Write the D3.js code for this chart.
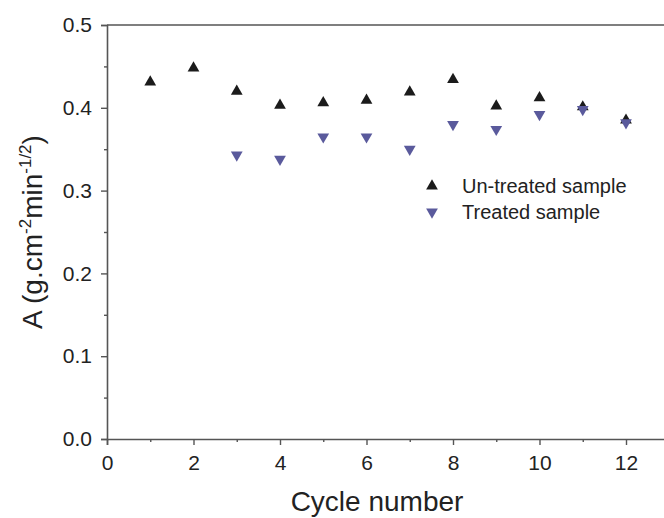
<!DOCTYPE html>
<html>
<head>
<meta charset="utf-8">
<script src="https://cdn.jsdelivr.net/npm/d3@7"></script>
<style>
  body { margin: 0; background: #fff; }
  text { font-family: "Liberation Sans", Arial, sans-serif; fill: #222; }
</style>
</head>
<body>
<div id="chart"></div>
<script>
// data
const untreatedCycles = [1, 2, 3, 4, 5, 6, 7, 8, 9, 10, 11, 12];
const untreatedValues = [0.431, 0.448, 0.420, 0.403, 0.406, 0.409, 0.419, 0.434, 0.402, 0.412, 0.401, 0.385];
const treatedCycles = [3, 4, 5, 6, 7, 8, 9, 10, 11, 12];
const treatedValues = [0.343, 0.338, 0.365, 0.365, 0.350, 0.380, 0.374, 0.392, 0.398, 0.382];
const xTicks = [0, 2, 4, 6, 8, 10, 12];
const yTicks = [0.0, 0.1, 0.2, 0.3, 0.4, 0.5];
const seriesNames = ["Un-treated sample", "Treated sample"];

const width = 664, height = 518;
const plotLeft = 107, plotTop = 25, plotBottom = 439;

const svg = d3.select("#chart").append("svg")
    .attr("width", width)
    .attr("height", height);

const x = d3.scaleLinear().domain([0, 13]).range([plotLeft, plotLeft + 13 * 43.25]);
const y = d3.scaleLinear().domain([0, 0.5]).range([plotBottom, plotTop]);

const axisColor = "#555";

// frame (top + right cut off at the page edge)
svg.append("line")
    .attr("x1", plotLeft).attr("x2", width).attr("y1", plotTop).attr("y2", plotTop)
    .attr("stroke", axisColor).attr("stroke-width", 1.6);

// x axis
svg.append("g")
    .attr("transform", `translate(0,${plotBottom})`)
    .call(d3.axisBottom(x).tickValues(xTicks).tickSize(6).tickPadding(10).tickFormat(d3.format("d")));
svg.append("g")
    .attr("transform", `translate(0,${plotBottom})`)
    .call(d3.axisBottom(x).tickValues(d3.range(1, 13, 2)).tickSize(3).tickFormat(""))
    .call(g => g.select(".domain").remove());

// y axis
svg.append("g")
    .attr("transform", `translate(${plotLeft},0)`)
    .call(d3.axisLeft(y).tickValues(yTicks).tickSize(6).tickPadding(9).tickFormat(d3.format(".1f")));
svg.append("g")
    .attr("transform", `translate(${plotLeft},0)`)
    .call(d3.axisLeft(y).tickValues(d3.range(0.05, 0.5, 0.1)).tickSize(3).tickFormat(""))
    .call(g => g.select(".domain").remove());

svg.selectAll(".domain").attr("stroke", axisColor).attr("stroke-width", 1.6);
svg.selectAll(".tick line").attr("stroke", axisColor).attr("stroke-width", 1.4);
svg.selectAll(".tick text")
    .style("font-family", "'Liberation Sans', Arial, sans-serif")
    .style("font-size", "21px")
    .attr("fill", "#333");

// axis titles
svg.append("text")
    .attr("x", 377).attr("y", 511)
    .attr("text-anchor", "middle")
    .style("font-size", "28px")
    .attr("fill", "#333")
    .text("Cycle number");

const yTitle = svg.append("text")
    .attr("transform", `translate(42,${y(0.25)}) rotate(-90)`)
    .attr("text-anchor", "middle")
    .attr("fill", "#333")
    .style("font-size", "28px");
yTitle.append("tspan").text("A (g.cm");
yTitle.append("tspan").attr("dy", -11).style("font-size", "17px").text("-2");
yTitle.append("tspan").attr("dy", 11).text("min");
yTitle.append("tspan").attr("dy", -11).style("font-size", "17px").text("-1/2");
yTitle.append("tspan").attr("dy", 11).text(")");

// markers
const up = d3.symbol().type(d3.symbolTriangle).size(60);
const untreated = untreatedCycles.map((c, i) => ({ c, v: untreatedValues[i] }));
const treated = treatedCycles.map((c, i) => ({ c, v: treatedValues[i] }));

svg.append("g").selectAll("path")
    .data(untreated)
    .join("path")
    .attr("d", up)
    .attr("transform", d => `translate(${x(d.c)},${y(d.v)})`)
    .attr("fill", "#1b1b1b");

svg.append("g").selectAll("path")
    .data(treated)
    .join("path")
    .attr("d", up)
    .attr("transform", d => `translate(${x(d.c)},${y(d.v)}) rotate(180)`)
    .attr("fill", "#5a5a9c");

// legend
const legend = svg.append("g");
const legendColors = ["#1b1b1b", "#5a5a9c"];
seriesNames.forEach((name, i) => {
    const ly = 186 + i * 26;
    legend.append("path")
        .attr("d", up)
        .attr("transform", `translate(432,${ly})` + (i === 1 ? " rotate(180)" : ""))
        .attr("fill", legendColors[i]);
    legend.append("text")
        .attr("x", 462).attr("y", ly + 7)
        .style("font-size", "20px")
        .attr("fill", "#333")
        .text(name);
});
</script>
</body>
</html>
